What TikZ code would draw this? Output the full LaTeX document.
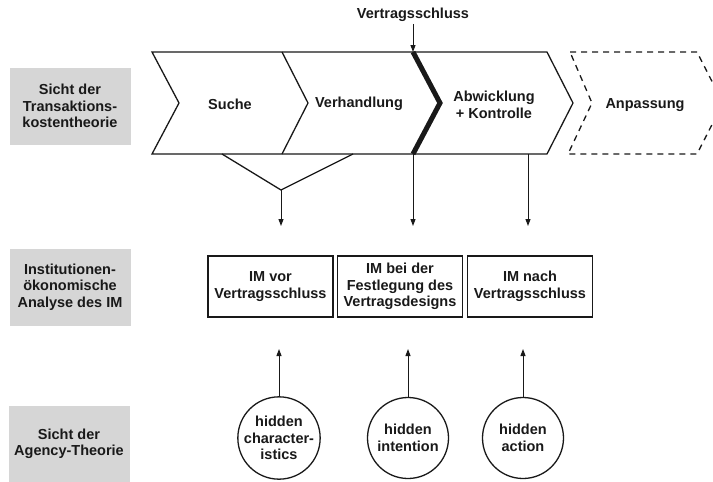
\documentclass[tikz,border=0pt]{standalone}
\usepackage{fontspec}
\setmainfont{Liberation Sans}
\usetikzlibrary{arrows.meta,positioning,shapes,calc}
\definecolor{sichtgray}{RGB}{214,214,214}
\definecolor{linegray}{gray}{0.1}

\begin{document}
\begin{tikzpicture}[x=1pt,y=-1pt,
    txt/.style={font=\bfseries\fontsize{14.5}{16.5}\selectfont, align=center, inner sep=0pt, text=linegray},
    sicht/.style={txt, fill=sichtgray, minimum width=121pt, minimum height=77pt},
    imbox/.style={txt, draw=linegray, line width=1.3pt, minimum width=125pt, minimum height=61pt},
    hidden/.style={txt, draw=linegray, circle, line width=1.3pt, minimum size=81pt},
    pfeil/.style={-{Triangle[length=7pt,width=5pt]}, line width=1pt, linegray}]
    \clip (0,0) rectangle (713,482);

    % Sichtweisen
    \node[sicht] (tkt) at (70,106) {Sicht der\\Transaktions-\\kostentheorie};
    \node[sicht] (ioa) at (70,287) {Institutionen-\\ökonomische\\Analyse des IM};
    \node[sicht] (agt) at (69,444) {Sicht der\\Agency-Theorie};

    % Phasen
    \draw[linegray, line width=1.3pt] (152,52) -- (547,52) -- (573,103) -- (547,154) -- (152,154) -- (179,103) -- cycle;
    \draw[linegray, line width=1.3pt] (282,52) -- (308,103) -- (282,154);
    \draw[linegray, line width=5pt] (413,52) -- (440,103) -- (413,154);
    \draw[linegray, line width=1.3pt, dash pattern=on 6pt off 5pt] (570,52) -- (697,52) -- (723,103) -- (697,154) -- (568,154) -- (592,103) -- cycle;

    \node[txt] (suche) at (230,104) {Suche};
    \node[txt] (verh) at (359,104) {Verhandlung};
    \node[txt] (abw) at (494,105) {Abwicklung\\+ Kontrolle};
    \node[txt] (anp) at (645,105) {Anpassung};

    % Vertragsschluss
    \node[txt] (vs) at (413,15) {Vertragsschluss};
    \coordinate (vsp) at (413,52);
    \draw[pfeil] ([yshift=-2pt]vs.south) -- (vsp);

    % Verbindungen nach unten
    \coordinate (a1) at (222,154);
    \coordinate (a2) at (353,154);
    \coordinate (a3) at (281,190);
    \coordinate (p1) at (281,226);
    \coordinate (b1) at (413,154);
    \coordinate (p2) at (413,226);
    \coordinate (c1) at (528,154);
    \coordinate (p3) at (528,226);
    \draw[linegray, line width=1.3pt] (a1) -- (a3) -- (a2);
    \draw[pfeil] (a3) -- (p1);
    \draw[pfeil] (b1) -- (p2);
    \draw[pfeil] (c1) -- (p3);

    % IM
    \node[imbox] (imvor) at (270.5,286.5) {IM vor\\Vertragsschluss};
    \node[imbox] (imbei) at (400,286.5) {IM bei der\\Festlegung des\\Vertragsdesigns};
    \node[imbox] (imnach) at (530,286.5) {IM nach\\Vertragsschluss};

    % Agency
    \node[hidden] (hc) at (279,438) {hidden\\character-\\istics};
    \node[hidden] (hi) at (408,438) {hidden\\intention};
    \node[hidden] (ha) at (523,438) {hidden\\action};
    \coordinate (q1) at (279,349);
    \coordinate (q2) at (408,349);
    \coordinate (q3) at (523,349);
    \draw[pfeil] (hc) -- (q1);
    \draw[pfeil] (hi) -- (q2);
    \draw[pfeil] (ha) -- (q3);
\end{tikzpicture}
\end{document}
